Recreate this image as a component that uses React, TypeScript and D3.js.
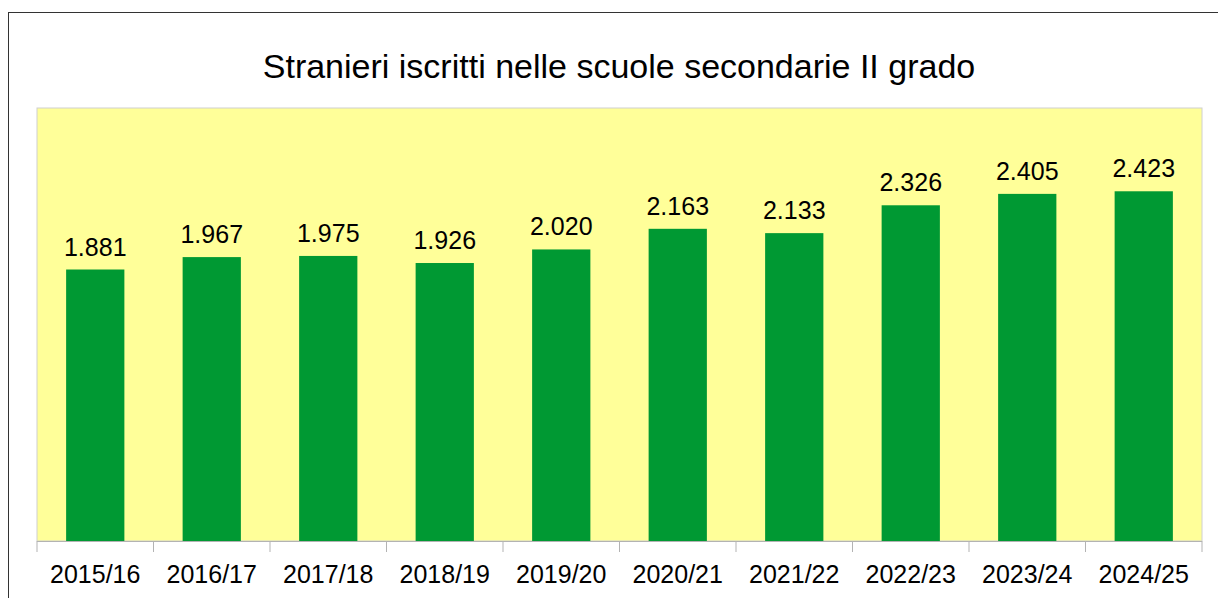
import * as d3 from "d3";

const categories = [
  "2015/16", "2016/17", "2017/18", "2018/19", "2019/20",
  "2020/21", "2021/22", "2022/23", "2023/24", "2024/25",
];
const values = [1881, 1967, 1975, 1926, 2020, 2163, 2133, 2326, 2405, 2423];
const title = "Stranieri iscritti nelle scuole secondarie II grado";

const width = 1218;
const height = 598;
const plot = { left: 37, right: 1202, top: 108, bottom: 541 };

const locale = d3.formatLocale({ decimal: ",", thousands: ".", grouping: [3], currency: ["€", ""] });
const fmt = locale.format(",d");

export default function App() {
  const x = d3
    .scaleBand<string>()
    .domain(categories)
    .range([plot.left, plot.right])
    .paddingInner(0.5)
    .paddingOuter(0.25);
  const y = d3.scaleLinear().domain([0, 3000]).range([plot.bottom, plot.top]);
  const step = x.step();
  const ticks = d3.range(categories.length + 1).map((i) => plot.left + i * step);
  const font = "'Liberation Sans', Arial, sans-serif";

  return (
    <svg
      width={width}
      height={height}
      style={{ position: "absolute", left: 0, top: 0, background: "#fff" }}
      fontFamily={font}
    >
      <rect x={8.5} y={12.5} width={1300} height={700} fill="#fff" stroke="#333" strokeWidth={1} />
      <text x={619} y={78} textAnchor="middle" fontSize={34} fill="#000">
        {title}
      </text>
      <rect
        x={plot.left}
        y={plot.top}
        width={plot.right - plot.left}
        height={plot.bottom - plot.top}
        fill="#ffff99"
        stroke="#d0d0d0"
        strokeWidth={1}
      />
      {categories.map((c, i) => (
        <g key={c}>
          <rect
            x={x(c)!}
            y={y(values[i])}
            width={x.bandwidth()}
            height={plot.bottom - y(values[i])}
            fill="#009933"
          />
          <text
            x={x(c)! + x.bandwidth() / 2}
            y={y(values[i]) - 14}
            textAnchor="middle"
            fontSize={25}
            fill="#000"
          >
            {fmt(values[i])}
          </text>
          <text
            x={x(c)! + x.bandwidth() / 2}
            y={583}
            textAnchor="middle"
            fontSize={25}
            fill="#000"
          >
            {c}
          </text>
        </g>
      ))}
      <line x1={plot.left} x2={plot.right} y1={plot.bottom + 0.5} y2={plot.bottom + 0.5} stroke="#b3b3b3" />
      {ticks.map((t, i) => (
        <line key={i} x1={t} x2={t} y1={plot.bottom} y2={552} stroke="#b3b3b3" />
      ))}
    </svg>
  );
}
